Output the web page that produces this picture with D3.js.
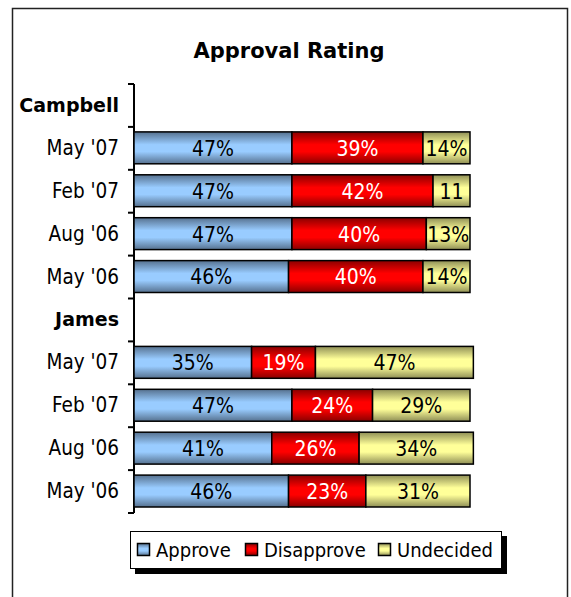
<!DOCTYPE html>
<html lang="en">
<head>
<meta charset="utf-8">
<script src="https://d3js.org/d3.v7.min.js"></script>
<style>
  body { margin: 0; background: #fff; }
  svg text { font-family: "DejaVu Sans Condensed", "DejaVu Sans", sans-serif; }
</style>
</head>
<body>
<div id="chart"></div>
<script>
  // chart data
  const groups = ["Campbell", "James"];
  const periods = ["May '07", "Feb '07", "Aug '06", "May '06"];
  const series = ["Approve", "Disapprove", "Undecided"];
  const approve = {Campbell: [47, 47, 47, 46], James: [35, 47, 41, 46]};
  const disapprove = {Campbell: [39, 42, 40, 40], James: [19, 24, 26, 23]};
  const undecided = {Campbell: [14, 11, 13, 14], James: [47, 29, 34, 31]};

  const svgWidth = 571, svgHeight = 597;
  const colors = {
    Approve: {light: "#99ccff", dark: "#56718f", text: "#000"},
    Disapprove: {light: "#ff0000", dark: "#8a0000", text: "#fff"},
    Undecided: {light: "#ffff99", dark: "#8f8f56", text: "#000"}
  };

  // rows: a header row per group then one row per period
  const rows = [];
  groups.forEach(g => {
    rows.push({key: g, label: g, header: true});
    periods.forEach((p, i) => {
      rows.push({
        key: g + "|" + p, label: p, header: false,
        values: [approve[g][i], disapprove[g][i], undecided[g][i]]
      });
    });
  });

  const svg = d3.select("#chart").append("svg")
    .attr("width", svgWidth)
    .attr("height", svgHeight);

  // gradients
  const defs = svg.append("defs");
  series.forEach(s => {
    const gr = defs.append("linearGradient")
      .attr("id", "grad-" + s)
      .attr("x1", 0).attr("y1", 0).attr("x2", 0).attr("y2", 1);
    gr.append("stop").attr("offset", "0%").attr("stop-color", colors[s].dark);
    gr.append("stop").attr("offset", "40%").attr("stop-color", colors[s].light);
    gr.append("stop").attr("offset", "62%").attr("stop-color", colors[s].light);
    gr.append("stop").attr("offset", "100%").attr("stop-color", colors[s].dark);
  });

  // outer frame
  svg.append("rect")
    .attr("x", 12.5).attr("y", 8.5)
    .attr("width", 555).attr("height", 600)
    .attr("fill", "#fff").attr("stroke", "#222").attr("stroke-width", 1.5);

  // title
  svg.append("text")
    .attr("x", 289).attr("y", 58)
    .attr("text-anchor", "middle")
    .style("font-size", "21px").style("font-weight", "bold")
    .style("font-family", "'DejaVu Sans', sans-serif")
    .text("Approval Rating");

  const x = d3.scaleLinear().domain([0, 100]).range([134, 470]);
  const y = d3.scaleBand().domain(rows.map(d => d.key)).range([84, 513])
    .paddingInner(0).paddingOuter(0);
  const barPad = 5;

  // category labels
  const axis = svg.append("g")
    .attr("transform", "translate(134,0)")
    .call(d3.axisLeft(y).tickSize(0).tickPadding(15)
      .tickFormat(k => rows.find(r => r.key === k).label));
  axis.select(".domain").remove();
  axis.selectAll("text")
    .attr("fill", "#000")
    .style("font-size", k => rows.find(r => r.key === k).header ? "19px" : "20.5px")
    .style("font-weight", k => rows.find(r => r.key === k).header ? "bold" : "normal")
    .style("font-family", k => rows.find(r => r.key === k).header ? "'DejaVu Sans', sans-serif" : null);

  // axis line and boundary ticks
  svg.append("line")
    .attr("x1", 134).attr("x2", 134)
    .attr("y1", y.range()[0]).attr("y2", y.range()[1])
    .attr("stroke", "#000").attr("stroke-width", 2);
  const bounds = rows.map(r => y(r.key)).concat([y.range()[1]]);
  svg.append("g").selectAll("line").data(bounds).join("line")
    .attr("x1", 128).attr("x2", 134)
    .attr("y1", d => d).attr("y2", d => d)
    .attr("stroke", "#000").attr("stroke-width", 2);

  // stacked bars
  const barRows = rows.filter(r => !r.header);
  barRows.forEach(r => {
    let acc = 0;
    r.segs = r.values.map((v, i) => {
      const s = {series: series[i], v: v, x0: acc, x1: acc + v};
      acc += v;
      return s;
    });
  });

  const rowG = svg.append("g").selectAll("g").data(barRows).join("g");
  rowG.selectAll("rect").data(r => r.segs.map(s => Object.assign({key: r.key}, s))).join("rect")
    .attr("x", d => x(d.x0))
    .attr("y", d => y(d.key) + barPad)
    .attr("width", d => x(d.x1) - x(d.x0))
    .attr("height", y.bandwidth() - 2 * barPad - 1)
    .attr("fill", d => "url(#grad-" + d.series + ")")
    .attr("stroke", "#000").attr("stroke-width", 1.5);

  rowG.selectAll("text").data(r => r.segs.map(s => Object.assign({key: r.key}, s))).join("text")
    .attr("x", d => (x(d.x0) + x(d.x1)) / 2)
    .attr("y", d => y(d.key) + y.bandwidth() / 2)
    .attr("dy", "0.35em")
    .attr("text-anchor", "middle")
    .attr("fill", d => colors[d.series].text)
    .style("font-size", "21px")
    .text(d => (x(d.x1) - x(d.x0) < 40) ? String(d.v) : d.v + "%");

  // legend
  const lg = svg.append("g");
  lg.append("rect").attr("x", 135).attr("y", 536).attr("width", 372).attr("height", 38).attr("fill", "#000");
  lg.append("rect").attr("x", 130.5).attr("y", 531.5).attr("width", 371).attr("height", 37)
    .attr("fill", "#fff").attr("stroke", "#000").attr("stroke-width", 1);
  const legendX = [137, 245, 378];
  const li = lg.selectAll("g.item").data(series).join("g").attr("class", "item")
    .attr("transform", (d, i) => "translate(" + legendX[i] + ",550)");
  li.append("rect").attr("x", 0.5).attr("y", -6.5).attr("width", 12).attr("height", 12)
    .attr("fill", d => "url(#grad-" + d + ")").attr("stroke", "#000").attr("stroke-width", 1.5);
  li.append("text").attr("x", 19).attr("dy", "0.35em")
    .style("font-size", "20px").text(d => d);
</script>
</body>
</html>
